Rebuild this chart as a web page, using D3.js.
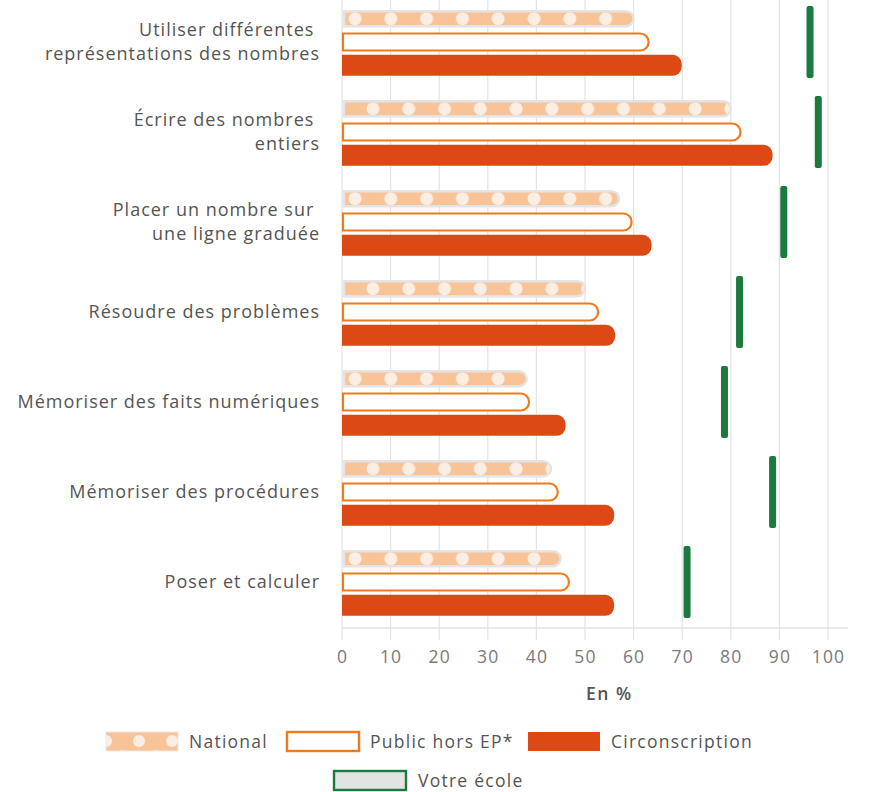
<!DOCTYPE html>
<html>
<head>
<meta charset="utf-8">
<script src="https://cdn.jsdelivr.net/npm/d3@7"></script>
<style>
  html, body { margin: 0; padding: 0; background: #ffffff; }
  svg { display: block; font-family: "Open Sans", Lato, sans-serif; }
</style>
</head>
<body>
<svg id="chart" width="876" height="792"></svg>
<script>
// ---------- DATA ----------
const categories = [
  ["Utiliser différentes\u00a0", "représentations des nombres"],
  ["Écrire des nombres\u00a0", "entiers"],
  ["Placer un nombre sur\u00a0", "une ligne graduée"],
  ["Résoudre des problèmes"],
  ["Mémoriser des faits numériques"],
  ["Mémoriser des procédures"],
  ["Poser et calculer"]
];
const nationalValues       = [60, 80, 57, 50, 38, 43, 45];
const publicValues         = [63.1, 82, 59.6, 52.7, 38.5, 44.4, 46.7];
const circonscriptionValues = [69.9, 88.6, 63.7, 56.2, 46, 56, 56];
const ecoleValues          = [96.3, 98, 90.9, 81.8, 78.7, 88.6, 71];
const tickValues = [0, 10, 20, 30, 40, 50, 60, 70, 80, 90, 100];
const seriesNames = ["National", "Public hors EP*", "Circonscription", "Votre école"];
const axisTitle = "En %";

// ---------- LAYOUT ----------
const svg = d3.select("#chart");
const x = d3.scaleLinear().domain([0, 100]).range([342, 828]);
const y = d3.scaleBand().domain(d3.range(categories.length)).range([-3, 627]).padding(0);
const sub = d3.scaleBand().domain([0, 1, 2]).range([-35, 35]).padding(0);
const center = i => y(i) + y.bandwidth() / 2;

const COL = {
  natFill: "#F9C398", natDot: "#FDEEE3", natEdge: "#E4E4E4",
  pubStroke: "#F07A1F", circ: "#DD4915", green: "#1B7A3E",
  grid: "#E3E3E3", text: "#555555", tick: "#7a7a7a"
};

// pattern for National
const defs = svg.append("defs");
const pat = defs.append("pattern").attr("id", "dots")
  .attr("patternUnits", "userSpaceOnUse")
  .attr("x", x(0)).attr("y", 0)
  .attr("width", 35.8).attr("height", 180);
pat.append("rect").attr("width", 35.8).attr("height", 180).attr("fill", COL.natFill);
pat.append("circle").attr("cx", 13).attr("cy", center(0) + sub(0) + sub.bandwidth()/2).attr("r", 6.5).attr("fill", COL.natDot);
pat.append("circle").attr("cx", 30.9).attr("cy", center(1) + sub(0) + sub.bandwidth()/2).attr("r", 6.5).attr("fill", COL.natDot);
pat.append("circle").attr("cx", 30.9 - 35.8).attr("cy", center(1) + sub(0) + sub.bandwidth()/2).attr("r", 6.5).attr("fill", COL.natDot);

// ---------- GRID ----------
const grid = svg.append("g");
grid.selectAll("line").data(tickValues).join("line")
  .attr("x1", d => x(d)).attr("x2", d => x(d))
  .attr("y1", 0).attr("y2", 640)
  .attr("stroke", COL.grid).attr("stroke-width", 1.2);

// x axis
const xAxis = d3.axisBottom(x).tickValues(tickValues).tickSize(0).tickPadding(23);
const ax = svg.append("g").attr("transform", "translate(0,628)").call(xAxis);
ax.select(".domain").remove();
ax.append("line").attr("x1", x(0)).attr("x2", 848).attr("y1", 0).attr("y2", 0)
  .attr("stroke", COL.grid).attr("stroke-width", 1.5);
ax.selectAll(".tick text").attr("fill", COL.tick).attr("font-size", 17.5)
  .attr("letter-spacing", 1.2)
  .attr("font-family", "\"Open Sans\", sans-serif");

svg.append("text").attr("x", x(55)).attr("y", 700).attr("text-anchor", "middle")
  .attr("fill", COL.text).attr("font-size", 17.5).attr("font-weight", 600)
  .attr("letter-spacing", 1.5).text(axisTitle);

// right-rounded bar path
function barPath(x0, x1, yTop, h, r) {
  r = Math.min(r, h / 2, Math.max(0, x1 - x0));
  return `M${x0},${yTop}H${x1 - r}A${r},${r} 0 0 1 ${x1},${yTop + r}V${yTop + h - r}A${r},${r} 0 0 1 ${x1 - r},${yTop + h}H${x0}Z`;
}

const bars = svg.append("g");
// National
const natH = 15;
bars.selectAll("path.nat").data(nationalValues).join("path").attr("class", "nat")
  .attr("d", (d, i) => barPath(x(0) + 2, x(d), center(i) + sub(0) + sub.bandwidth()/2 - natH/2, natH, natH/2))
  .attr("fill", "url(#dots)").attr("stroke", COL.natEdge).attr("stroke-width", 2.5);
// Public
const pubH = 17;
bars.selectAll("path.pub").data(publicValues).join("path").attr("class", "pub")
  .attr("d", (d, i) => barPath(x(0) + 1, x(d), center(i) + sub(1) + sub.bandwidth()/2 - pubH/2, pubH, 8.5))
  .attr("fill", "#ffffff").attr("stroke", COL.pubStroke).attr("stroke-width", 2.2);
// Circonscription
const circH = 21;
bars.selectAll("path.circ").data(circonscriptionValues).join("path").attr("class", "circ")
  .attr("d", (d, i) => barPath(x(0), x(d), center(i) + sub(2) + sub.bandwidth()/2 - circH/2, circH, 9))
  .attr("fill", COL.circ);
// Votre école markers
bars.selectAll("rect.ecole").data(ecoleValues).join("rect").attr("class", "ecole")
  .attr("x", d => x(d) - 3.5).attr("width", 7)
  .attr("y", (d, i) => center(i) - 36).attr("height", 72)
  .attr("rx", 2).attr("fill", COL.green);

// ---------- CATEGORY LABELS ----------
const labels = svg.append("g").attr("fill", COL.text).attr("font-size", 18)
  .attr("letter-spacing", 1).attr("text-anchor", "end");
categories.forEach((lines, i) => {
  const c = center(i);
  const t = labels.append("text").attr("x", 320).style("white-space", "pre");
  lines.forEach((ln, k) => {
    const off = lines.length === 1 ? 0 : (k === 0 ? -12 : 12);
    t.append("tspan").attr("x", 320).attr("y", c + off + 6).text(ln);
  });
});

// ---------- LEGEND ----------
const leg = svg.append("g").attr("font-size", 17.5).attr("fill", COL.text).attr("letter-spacing", 1.25);
const legItems = [
  { name: seriesNames[0], x: 106, y: 732, type: "nat", tx: 189 },
  { name: seriesNames[1], x: 287, y: 732, type: "pub", tx: 370 },
  { name: seriesNames[2], x: 528, y: 732, type: "circ", tx: 611 },
  { name: seriesNames[3], x: 334, y: 771, type: "ecole", tx: 418 }
];
const legPat = defs.append("pattern").attr("id", "legdots")
  .attr("patternUnits", "userSpaceOnUse").attr("x", 106).attr("y", 732)
  .attr("width", 33).attr("height", 20);
legPat.append("rect").attr("width", 33).attr("height", 20).attr("fill", COL.natFill);
legPat.append("circle").attr("cx", 0).attr("cy", 9).attr("r", 6).attr("fill", COL.natDot);
legPat.append("circle").attr("cx", 33).attr("cy", 9).attr("r", 6).attr("fill", COL.natDot);
legPat.append("circle").attr("cx", 16.5).attr("cy", 24).attr("r", 6).attr("fill", COL.natDot);
legItems.forEach(it => {
  const r = leg.append("rect").attr("x", it.x).attr("y", it.y).attr("width", 72).attr("height", 19);
  if (it.type === "nat") r.attr("fill", "url(#legdots)").attr("stroke", "#E8E8E8").attr("stroke-width", 1);
  if (it.type === "pub") r.attr("fill", "#fff").attr("stroke", COL.pubStroke).attr("stroke-width", 2.4);
  if (it.type === "circ") r.attr("fill", COL.circ);
  if (it.type === "ecole") r.attr("fill", "#E3E3E3").attr("stroke", COL.green).attr("stroke-width", 2.4);
  leg.append("text").attr("x", it.tx).attr("y", it.y + 16).text(it.name);
});
</script>
</body>
</html>
